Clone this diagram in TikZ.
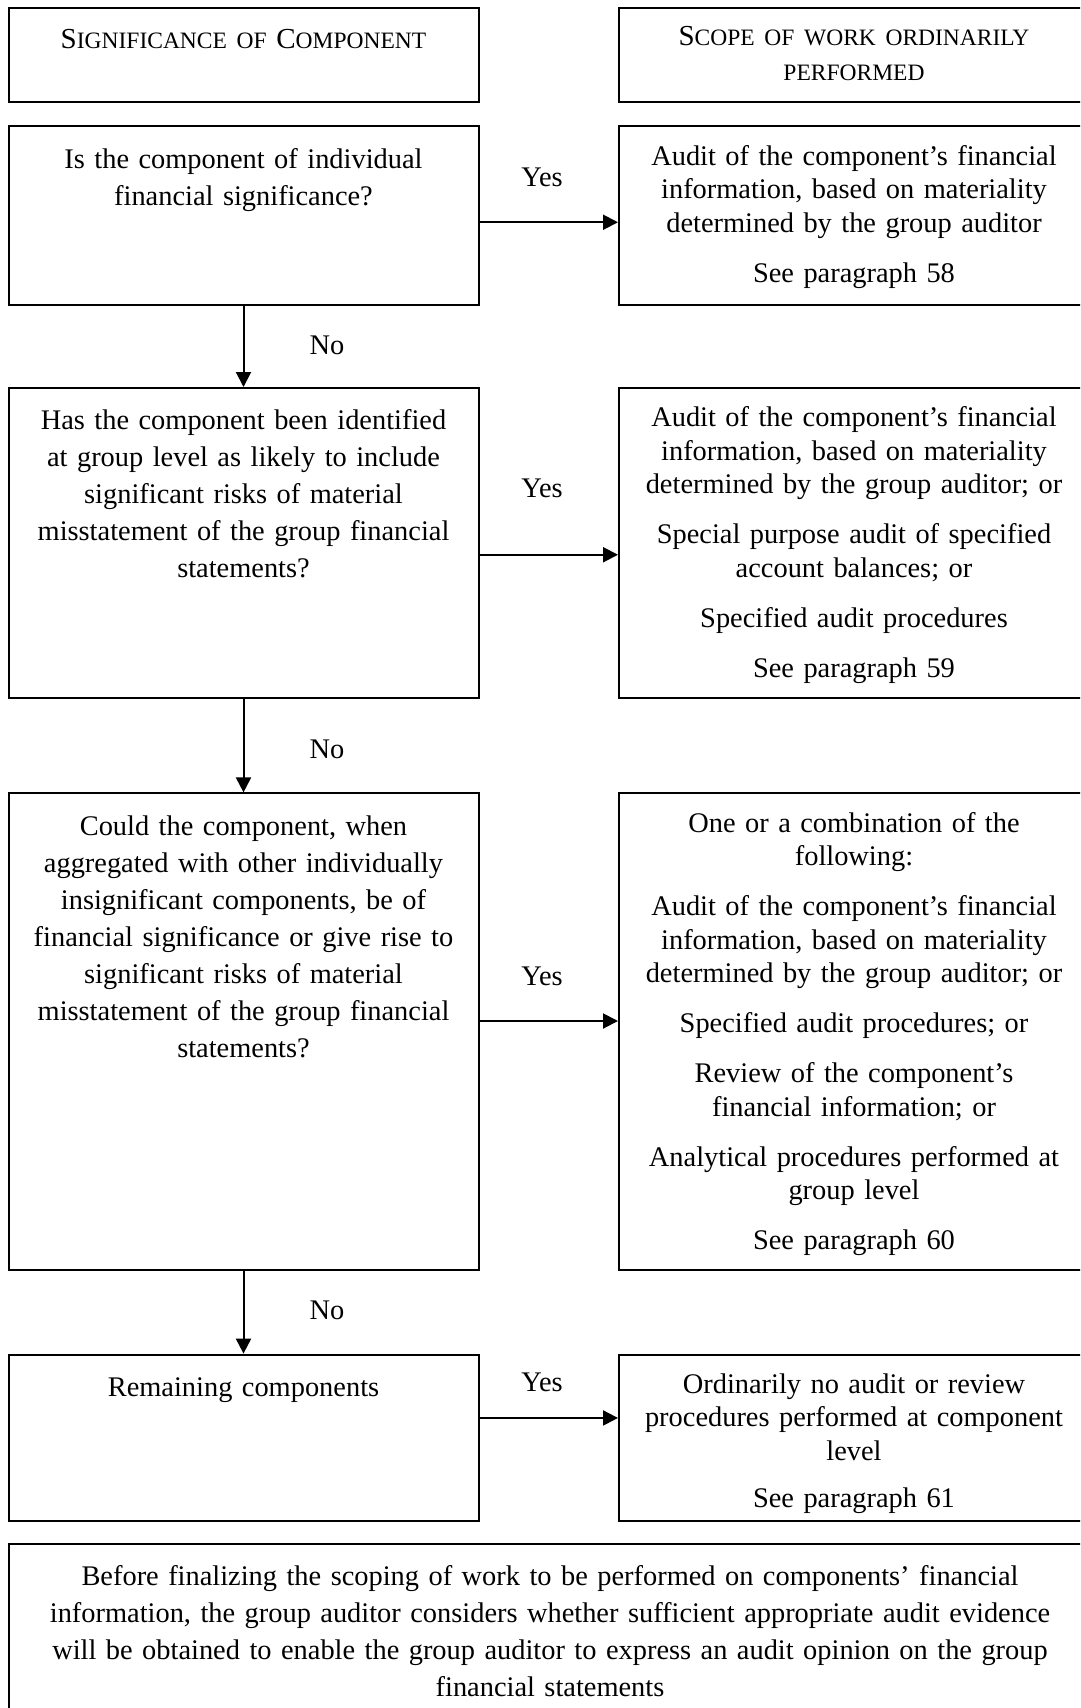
\documentclass[tikz,border=0pt]{standalone}
\usepackage{fontspec}
\setmainfont{Liberation Serif}
\usetikzlibrary{arrows.meta,positioning}
\newcommand{\smc}[1]{{\fontsize{23.5}{35}\selectfont #1}}
\tikzset{
  box/.style={draw,line width=2pt,minimum width=470pt,minimum height=#1,inner sep=0pt},
  wide/.style={draw,line width=2pt,minimum width=1082pt,minimum height=#1,inner sep=0pt},
  qtxt/.style={anchor=north,text width=462pt,align=center,inner sep=0pt,font=\fontsize{28.4}{37}\selectfont,execute at begin node=\strut},
  atxt/.style={anchor=north,text width=462pt,align=center,inner sep=0pt,font=\fontsize{28.4}{33.5}\selectfont,execute at begin node=\strut},
  htxt/.style={anchor=north,text width=462pt,align=center,inner sep=0pt,font=\fontsize{29}{35}\selectfont,execute at begin node=\strut},
  lbl/.style={inner sep=0pt,font=\fontsize{28.4}{35}\selectfont},
  arr/.style={-{Triangle[length=15pt,width=15pt]},line width=2pt},
}
\begin{document}
\begin{tikzpicture}[x=1pt,y=-1pt]
 \useasboundingbox (0,0) rectangle (1080,1708);
 \clip (0,0) rectangle (1080,1708);
 % headers
 \node[box=94.8pt] (hl) at (243.5,55) {};
 \node[box=94.8pt] (hr) at (854,55) {};
 \node[htxt,below=17.4pt of hl.north] (hlt) {S\smc{IGNIFICANCE OF }C\smc{OMPONENT}};
 \node[htxt,below=14.5pt of hr.north] (hrt) {S\smc{COPE OF WORK ORDINARILY}\\\smc{PERFORMED}};
 % question column
 \node[box=178.7pt] (q1) at (243.5,215.75) {};
 \node[box=309.5pt] (q2) at (243.5,542.75) {};
 \node[box=476.2pt] (q3) at (243.5,1031.5) {};
 \node[box=166.7pt] (q4) at (243.5,1437.95) {};
 % scope column
 \node[box=178.7pt] (a1) at (854,215.75) {};
 \node[box=309.5pt] (a2) at (854,542.75) {};
 \node[box=476.2pt] (a3) at (854,1031.5) {};
 \node[box=166.7pt] (a4) at (854,1437.95) {};
 \node[wide=216pt] (note) at (550,1652) {};
 \node[qtxt,below=16.6pt of q1.north] (q1t) {Is the component of individual\\financial significance?};
 \node[qtxt,below=16.6pt of q2.north] (q2t) {Has the component been identified\\at group level as likely to include\\significant risks of material\\misstatement of the group financial\\statements?};
 \node[qtxt,below=16.6pt of q3.north] (q3t) {Could the component, when\\aggregated with other individually\\insignificant components, be of\\financial significance or give rise to\\significant risks of material\\misstatement of the group financial\\statements?};
 \node[qtxt,below=16.6pt of q4.north] (q4t) {Remaining components};
 \node[atxt,below=16pt of a1.north] (a1t) {Audit of the component's financial\\information, based on materiality\\determined by the group auditor\\[16.5pt]See paragraph 58};
 \node[atxt,below=16pt of a2.north] (a2t) {Audit of the component's financial\\information, based on materiality\\determined by the group auditor; or\\[16.5pt]Special purpose audit of specified\\account balances; or\\[16.5pt]Specified audit procedures\\[16.5pt]See paragraph 59};
 \node[atxt,below=16pt of a3.north] (a3t) {One or a combination of the\\following:\\[16.5pt]Audit of the component's financial\\information, based on materiality\\determined by the group auditor; or\\[16.5pt]Specified audit procedures; or\\[16.5pt]Review of the component's\\financial information; or\\[16.5pt]Analytical procedures performed at\\group level\\[16.5pt]See paragraph 60};
 \node[atxt,below=16pt of a4.north] (a4t) {Ordinarily no audit or review\\procedures performed at component\\level\\[14pt]See paragraph 61};
 \node[qtxt,text width=1070pt,below=16.6pt of note.north] (notet) {Before finalizing the scoping of work to be performed on components' financial\\information, the group auditor considers whether sufficient appropriate audit evidence\\will be obtained to enable the group auditor to express an audit opinion on the group\\financial statements};
 % connectors
 \foreach \a/\b in {q1/q2,q2/q3,q3/q4} {\draw[arr] (\a) -- (\b);}
 \draw[arr] ([yshift=-6.5pt]q1.east) -- ([yshift=-6.5pt]a1.west);
 \draw[arr] ([yshift=-12pt]q2.east) -- ([yshift=-12pt]a2.west);
 \draw[arr] ([yshift=10.5pt]q3.east) -- ([yshift=10.5pt]a3.west);
 \draw[arr] ([yshift=20pt]q4.east) -- ([yshift=20pt]a4.west);
 \node[lbl] (y1) at (542,177.6) {Yes};
 \node[lbl] (y2) at (542,488) {Yes};
 \node[lbl] (y3) at (542,976.5) {Yes};
 \node[lbl] (y4) at (542,1382) {Yes};
 \node[lbl] (n1) at (327,345.5) {No};
 \node[lbl] (n2) at (327,749.8) {No};
 \node[lbl] (n3) at (327,1310) {No};
\end{tikzpicture}
\end{document}
